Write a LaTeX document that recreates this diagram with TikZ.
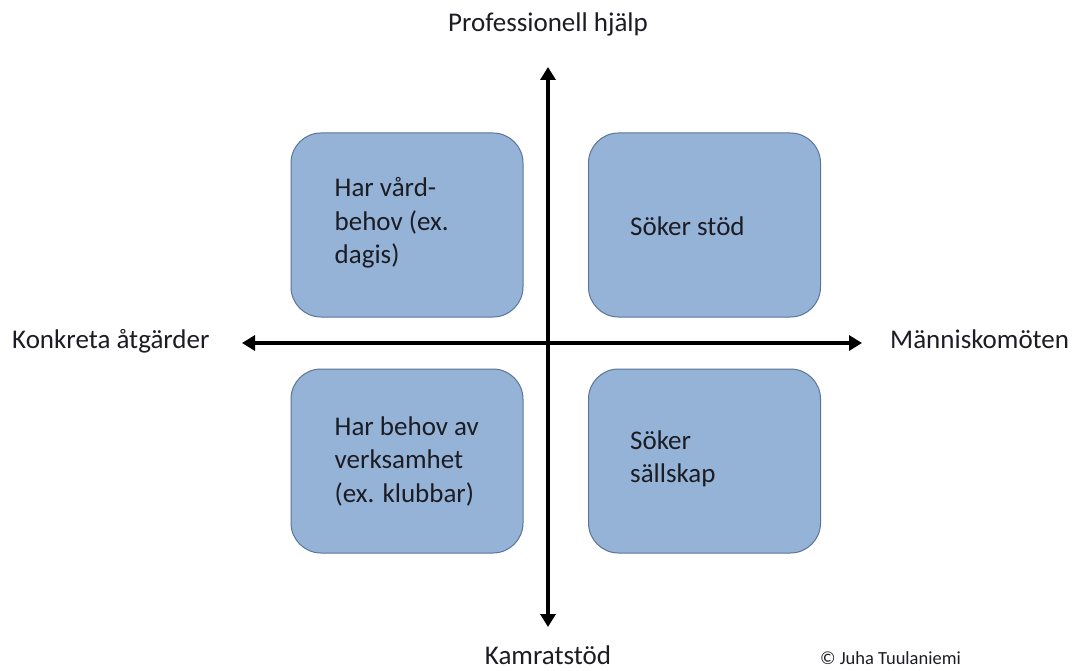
\documentclass[tikz,border=0pt]{standalone}
\usepackage{fontspec}
\setmainfont{Carlito}
\usetikzlibrary{arrows.meta}

\definecolor{boxfill}{HTML}{95B3D7}
\definecolor{boxedge}{HTML}{5B7499}
\definecolor{textdark}{HTML}{1C1C24}

\tikzset{
  quadrant/.style={draw=boxedge, line width=1pt, fill=boxfill, rounded corners=30pt,
    minimum width=232pt, minimum height=184pt, inner sep=0pt},
  boxtext/.style={anchor=west, align=left, inner sep=0pt, text=textdark,
    font=\fontsize{27}{33.5}\selectfont},
  axislabel/.style={anchor=base, inner sep=0pt, text=textdark, font=\fontsize{27}{30}\selectfont},
  axis/.style={line width=4pt, {Triangle[length=13pt,width=15pt]}-{Triangle[length=13pt,width=15pt]}},
}

\begin{document}
\begin{tikzpicture}[x=1pt,y=1pt]
\def\axisx{548}
\def\axisy{-343}
\def\leftx{407}
\def\rightx{704.5}
\def\topy{-225}
\def\bottomy{-461}

\fill[white] (0,0) rectangle (1074,-671);
\useasboundingbox (0,0) rectangle (1074,-671);

% Quadrants
\node[quadrant] (care) at (\leftx,\topy) {};
\node[quadrant] (support) at (\rightx,\topy) {};
\node[quadrant] (activity) at (\leftx,\bottomy) {};
\node[quadrant] (company) at (\rightx,\bottomy) {};

\node[boxtext] (care-text) at ([xshift=44pt,yshift=2pt]care.west) {Har vård-\\behov (ex.\\dagis)};
\node[boxtext] (support-text) at ([xshift=42pt,yshift=-1pt]support.west) {Söker stöd};
\node[boxtext] (activity-text) at ([xshift=44pt]activity.west) {Har behov av\\verksamhet\\(ex. klubbar)};
\node[boxtext] (company-text) at ([xshift=42pt,yshift=2pt]company.west) {Söker\\sällskap};

% Axes
\coordinate (up) at (\axisx,-67);
\coordinate (down) at (\axisx,-627);
\coordinate (left) at (242,\axisy);
\coordinate (right) at (862,\axisy);
\draw[axis] (down) -- (up);
\draw[axis] (left) -- (right);

% Labels
\node[axislabel] (professional) at (\axisx,-32) {Professionell hjälp};
\node[axislabel] (peer) at (\axisx,-664) {Kamratstöd};
\node[axislabel, anchor=base west] (concrete) at (12,-348) {Konkreta åtgärder};
\node[axislabel, anchor=base west] (meetings) at (890,-348) {Människomöten};
\node[anchor=base west, inner sep=0pt, text=textdark, font=\fontsize{18.5}{20}\selectfont] (copyright) at (820,-664) {© Juha Tuulaniemi};

\end{tikzpicture}
\end{document}
